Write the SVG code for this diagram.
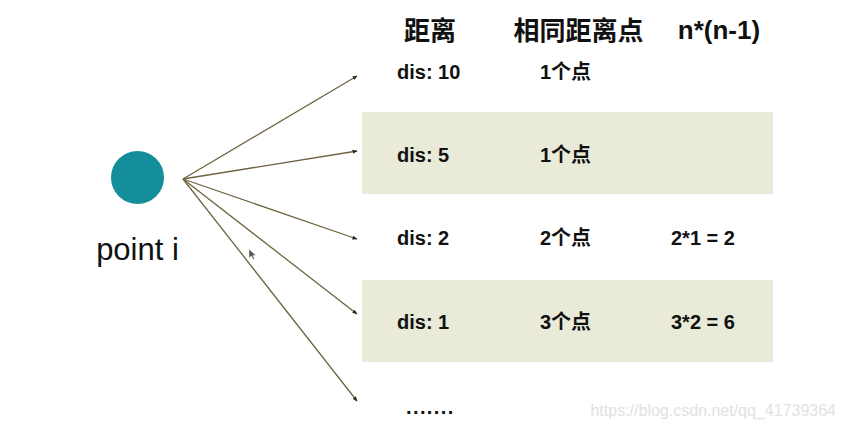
<svg xmlns="http://www.w3.org/2000/svg" width="845" height="429" viewBox="0 0 845 429">
<style>
.h{font-family:"Liberation Sans","Noto Sans CJK SC",Arial,sans-serif;font-weight:bold;font-size:26px;fill:#111}
.t{font-family:"Liberation Sans","Noto Sans CJK SC",Arial,sans-serif;font-weight:bold;font-size:20px;fill:#111}
.band{fill:#e9ead7}
.c{stroke:#6e6440;stroke-width:1.3;fill:none;marker-end:url(#ah)}
</style>
<defs>
<marker id="ah" viewBox="0 0 10 10" refX="9" refY="5" markerWidth="5" markerHeight="5" orient="auto" markerUnits="userSpaceOnUse">
<path d="M0,1 L10,5 L0,9 z" fill="#2a2616"/>
</marker>
</defs>
<rect width="845" height="429" fill="#fff"/>
<g id="bands">
<rect class="band" x="362" y="112" width="411" height="82"/>
<rect class="band" x="362" y="280" width="411" height="82"/>
</g>
<g id="point-i">
<circle cx="137.5" cy="177.5" r="26.5" fill="#138e9a"/>
<text x="137.5" y="260" text-anchor="middle" font-family="Liberation Sans,Arial,sans-serif" font-size="31" fill="#111">point i</text>
</g>
<g id="connectors">
<line class="c" x1="183" y1="179" x2="357" y2="76"/>
<line class="c" x1="183" y1="179" x2="357" y2="151"/>
<line class="c" x1="183" y1="179" x2="357" y2="239"/>
<line class="c" x1="183" y1="179" x2="357" y2="314"/>
<line class="c" x1="183" y1="179" x2="357" y2="401"/>
</g>
<g id="headers">
<text class="h" x="430" y="40" text-anchor="middle">距离</text>
<text class="h" x="578.5" y="40" text-anchor="middle">相同距离点</text>
<text class="h" x="719" y="39" text-anchor="middle">n*(n-1)</text>
</g>
<g id="row1">
<text class="t" x="397" y="79">dis: 10</text>
<text class="t" x="540" y="79">1个点</text>
</g>
<g id="row2">
<text class="t" x="397" y="162">dis: 5</text>
<text class="t" x="540" y="162">1个点</text>
</g>
<g id="row3">
<text class="t" x="397" y="245">dis: 2</text>
<text class="t" x="540" y="245">2个点</text>
<text class="t" x="671" y="245">2*1 = 2</text>
</g>
<g id="row4">
<text class="t" x="397" y="329">dis: 1</text>
<text class="t" x="540" y="329">3个点</text>
<text class="t" x="671" y="329">3*2 = 6</text>
</g>
<g id="row5">
<text class="t" x="406" y="414" letter-spacing="1.4">.......</text>
</g>
<path d="M249,249 L249,258 L251.5,256 L253,259.5 L254.5,259 L253,255.5 L256,255.5 z" fill="#555" stroke="#fff" stroke-width="0.5"/>
<text x="836" y="416" text-anchor="end" font-family="Liberation Sans,Arial,sans-serif" font-size="16" fill="#e2e2e2">https://blog.csdn.net/qq_41739364</text>
</svg>
